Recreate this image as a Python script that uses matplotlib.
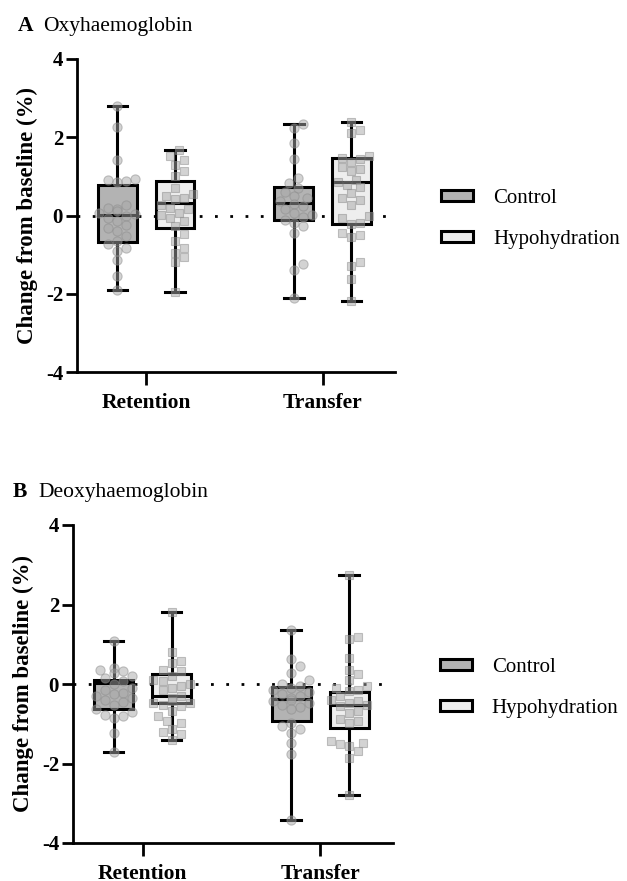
import matplotlib
matplotlib.use("Agg")
import matplotlib.pyplot as plt
from matplotlib.patches import Patch
import numpy as np

plt.rcParams['font.family'] = ['Liberation Serif', 'DejaVu Serif']
plt.rcParams['axes.unicode_minus'] = False

# categories
times = ['Retention', 'Transfer']
groups = ['Control', 'Hypohydration']
box_colors = ['#b3b3b3', '#eeeeee']

# box stats, order: Retention-Control, Retention-Hypo, Transfer-Control, Transfer-Hypo
oxy_whishi = [2.80, 1.67, 2.35, 2.40]
oxy_q3 = [0.79, 0.88, 0.73, 1.46]
oxy_med = [0.02, 0.33, 0.33, 0.86]
oxy_q1 = [-0.69, -0.33, -0.11, -0.21]
oxy_whislo = [-1.91, -1.96, -2.12, -2.19]

deoxy_whishi = [1.08, 1.81, 1.35, 2.74]
deoxy_q3 = [0.11, 0.25, -0.07, -0.21]
deoxy_med = [0.03, -0.30, -0.37, -0.52]
deoxy_q1 = [-0.64, -0.48, -0.93, -1.10]
deoxy_whislo = [-1.72, -1.40, -3.43, -2.78]

# individual participants
oxy_ret_con = [2.80, 2.26, 1.42, 0.94, 0.92, 0.89, 0.86, 0.27, 0.20, 0.16, 0.11, 0.07, 0.03,
               -0.01, -0.06, -0.14, -0.24, -0.31, -0.39, -0.52, -0.65, -0.72, -0.82, -0.90,
               -1.15, -1.54, -1.91]
oxy_ret_hyp = [1.67, 1.51, 1.43, 1.30, 1.13, 1.00, 0.71, 0.54, 0.49, 0.45, 0.41, 0.28, 0.20,
               0.16, 0.07, 0.01, -0.06, -0.14, -0.27, -0.48, -0.65, -0.82, -0.97, -1.07,
               -1.20, -1.96]
oxy_tra_con = [2.35, 2.23, 1.85, 1.45, 0.96, 0.83, 0.71, 0.60, 0.49, 0.44, 0.37, 0.30, 0.24,
               0.16, 0.07, 0.01, -0.04, -0.11, -0.18, -0.27, -0.46, -1.24, -1.39, -2.12]
oxy_tra_hyp = [2.40, 2.19, 2.10, 1.51, 1.48, 1.45, 1.38, 1.23, 1.20, 1.13, 0.92, 0.86, 0.79,
               0.72, 0.58, 0.45, 0.39, 0.28, -0.01, -0.06, -0.18, -0.22, -0.46, -0.49, -0.55,
               -1.20, -1.28, -1.62, -2.19]

deoxy_ret_con = [1.08, 0.41, 0.36, 0.32, 0.28, 0.21, 0.16, 0.07, -0.01, -0.10, -0.16, -0.22,
                 -0.26, -0.31, -0.36, -0.41, -0.46, -0.52, -0.64, -0.71, -0.77, -0.81, -0.86,
                 -1.23, -1.72]
deoxy_ret_hyp = [1.81, 0.80, 0.57, 0.53, 0.36, 0.32, 0.20, 0.11, 0.07, -0.01, -0.05, -0.10,
                 -0.16, -0.31, -0.35, -0.43, -0.47, -0.49, -0.52, -0.56, -0.68, -0.81, -0.94,
                 -0.99, -1.14, -1.21, -1.27, -1.40]
deoxy_tra_con = [1.35, 0.62, 0.45, 0.28, 0.11, 0.01, -0.05, -0.10, -0.14, -0.19, -0.26, -0.31,
                 -0.35, -0.39, -0.43, -0.47, -0.52, -0.57, -0.62, -0.98, -1.06, -1.14, -1.23,
                 -1.48, -1.77, -3.43]
deoxy_tra_hyp = [2.74, 1.19, 1.14, 0.66, 0.36, 0.24, 0.11, -0.05, -0.10, -0.14, -0.18, -0.31,
                 -0.39, -0.43, -0.47, -0.52, -0.56, -0.68, -0.73, -0.89, -0.94, -0.98, -1.44,
                 -1.48, -1.52, -1.56, -1.69, -1.86, -2.78]


def swarm_offsets(vals, diam=9.0, xscale=177.0, yscale=39.6, maxw=21.0):
    """simple beeswarm, offsets returned in data units"""
    order = np.argsort(vals)
    placed = []
    offs = np.zeros(len(vals))
    for i in order:
        y = vals[i] * yscale
        best = 0.0
        for k in range(0, 12):
            for sign in ([1] if k == 0 else [1, -1]):
                cand = sign * k * diam * 0.5
                if abs(cand) > maxw:
                    continue
                if all((cand - px) ** 2 + (y - py) ** 2 >= diam ** 2 for px, py in placed):
                    best = cand
                    break
            else:
                continue
            break
        placed.append((best, y))
        offs[i] = best / xscale
    return offs


def draw_panel(ax, whislo, q1, med, q3, whishi, pts):
    offset = 0.163
    positions = [1 - offset, 1 + offset, 2 - offset, 2 + offset]
    stats = []
    for i in range(4):
        stats.append(dict(whislo=whislo[i], q1=q1[i], med=med[i], q3=q3[i],
                          whishi=whishi[i], fliers=[]))
    bp = ax.bxp(stats, positions=positions, widths=0.22, patch_artist=True,
                showfliers=False, capwidths=0.11,
                boxprops=dict(linewidth=2.2, edgecolor='black'),
                medianprops=dict(linewidth=2.2, color='black'),
                whiskerprops=dict(linewidth=2.2, color='black'),
                capprops=dict(linewidth=2.2, color='black'))
    for i, box in enumerate(bp['boxes']):
        box.set_facecolor(box_colors[i % 2])

    for i, vals in enumerate(pts):
        vals = np.array(vals)
        xo = swarm_offsets(vals)
        marker = 'o' if i % 2 == 0 else 's'
        ax.scatter(positions[i] + xo, vals, s=44 if marker == 'o' else 36, marker=marker,
                   facecolor='#a8a8a8', edgecolor='#8c8c8c', linewidths=0.8,
                   alpha=0.5, zorder=4)

    ax.axhline(0, color='black', linestyle=(0, (1, 4.5)), linewidth=2.0, zorder=1)

    ax.set_xlim(0.608, 2.41)
    ax.set_ylim(-4, 4)
    ax.set_yticks([-4, -2, 0, 2, 4])
    ax.set_xticks([1, 2])
    ax.set_xticklabels(times, fontweight='bold', fontsize=15.5)
    for lab in ax.get_yticklabels():
        lab.set_fontweight('bold')
        lab.set_fontsize(15)
    ax.spines['top'].set_visible(False)
    ax.spines['right'].set_visible(False)
    ax.spines['left'].set_linewidth(2.0)
    ax.spines['bottom'].set_linewidth(2.0)
    ax.tick_params(axis='y', length=8, width=2.0, pad=2)
    ax.tick_params(axis='x', length=9, width=2.0, pad=6)
    ax.set_ylabel('Change from baseline (%)', fontweight='bold', fontsize=16.5, labelpad=6)

    handles = [Patch(facecolor=box_colors[0], edgecolor='black', linewidth=2.2),
               Patch(facecolor=box_colors[1], edgecolor='black', linewidth=2.2)]
    ax.legend(handles, groups, loc='center left', bbox_to_anchor=(1.087, 0.488),
              frameon=False, fontsize=15, handlelength=1.54, handleheight=0.45,
              handletextpad=0.96, labelspacing=1.05)


fig = plt.figure(figsize=(6.27, 8.81), dpi=100)
ax1 = fig.add_axes([77 / 627, 1 - 372 / 881, 318 / 627, 313 / 881])
ax2 = fig.add_axes([73 / 627, 1 - 843 / 881, 320 / 627, 318 / 881])

draw_panel(ax1, oxy_whislo, oxy_q1, oxy_med, oxy_q3, oxy_whishi,
           [oxy_ret_con, oxy_ret_hyp, oxy_tra_con, oxy_tra_hyp])
draw_panel(ax2, deoxy_whislo, deoxy_q1, deoxy_med, deoxy_q3, deoxy_whishi,
           [deoxy_ret_con, deoxy_ret_hyp, deoxy_tra_con, deoxy_tra_hyp])

fig.text(18 / 627, 1 - 31 / 881, 'A', fontweight='bold', fontsize=15.5, va='baseline')
fig.text(43 / 627, 1 - 31 / 881, 'Oxyhaemoglobin', fontsize=15.5, va='baseline')
fig.text(13 / 627, 1 - 497 / 881, 'B', fontweight='bold', fontsize=15.5, va='baseline')
fig.text(38 / 627, 1 - 497 / 881, 'Deoxyhaemoglobin', fontsize=15.5, va='baseline')

fig.savefig('out.png', dpi=100)
